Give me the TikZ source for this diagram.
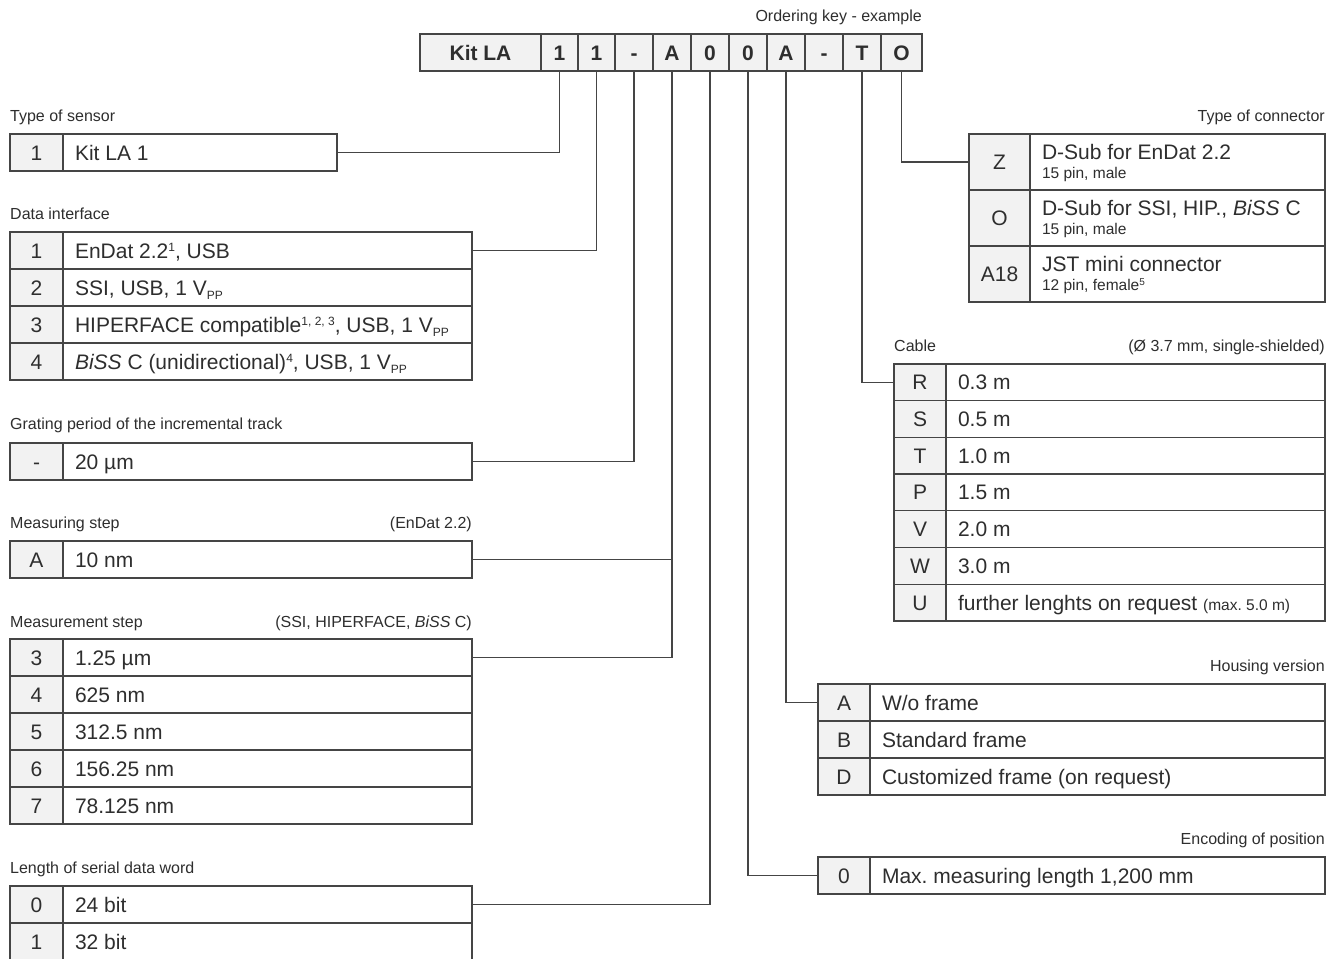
\documentclass[tikz,border=0pt]{standalone}
\usepackage{fontspec}
\setmainfont{Liberation Sans}
\usetikzlibrary{calc}
\definecolor{linec}{HTML}{454545}
\definecolor{keyfill}{HTML}{F2F2F2}
\definecolor{txtc}{HTML}{2E2E2E}
\newcommand\resetsp{\spaceskip=0pt\xspaceskip=0pt\frenchspacing}
\newcommand\mainsz{\fontsize{21}{24}\selectfont\resetsp}
\newcommand\labsz{\fontsize{16}{19}\selectfont\resetsp}
\newcommand\subsz{\fontsize{15.5}{17}\selectfont\resetsp}
\newcommand\mysup[1]{\raisebox{7pt}{\fontsize{12}{12}\selectfont\resetsp #1}}
\newcommand\mysupsm[1]{\raisebox{5pt}{\fontsize{10}{10}\selectfont\resetsp #1}}
\newcommand\mysub[1]{\raisebox{-4pt}{\fontsize{12}{12}\selectfont #1}}
\tikzset{
  cellbase/.style={draw=linec, line width=1.3pt, inner sep=0pt, outer sep=0pt, text=txtc},
  capfix/.style={text height=15pt, text depth=0pt},
  keycell/.style={cellbase, capfix, fill=keyfill, font=\mainsz},
  txtcell/.style={cellbase, fill=white, font=\mainsz, align=left, inner xsep=12pt},
  hdrcell/.style={cellbase, capfix, fill=keyfill, font=\mainsz\bfseries, minimum height=37pt},
  lab/.style={font=\labsz, text=txtc, inner sep=0pt},
  conn/.style={draw=linec, line width=1.3pt},
}
% #1 name, #2 x, #3 y, #4 key width, #5 text cell width, #6 height, #7 key, #8 text, #9 extra style
\newcommand\kvrowgen[9]{%
  \pgfmathsetmacro\myxt{#2+#4}%
  \pgfmathsetmacro\mytw{#5-24}%
  \node[keycell, minimum width=#4pt, minimum height=#6pt, anchor=north west] (#1-k) at (#2,#3) {#7};
  \node[txtcell, #9, text width=\mytw pt, minimum height=#6pt, anchor=north west] (#1-t) at (\myxt,#3) {\resetsp #8};
}
\newcommand\kvrow[8]{\kvrowgen{#1}{#2}{#3}{#4}{#5}{#6}{#7}{#8}{capfix}}
\newcommand\kvrowtwo[8]{\kvrowgen{#1}{#2}{#3}{#4}{#5}{#6}{#7}{#8}{}}
% #1 name, #2 x0, #3 x1, #4 text
\newcommand\hdr[4]{%
  \pgfmathsetmacro\myw{#3-#2}%
  \node[hdrcell, minimum width=\myw pt, anchor=north west] (#1) at (#2,34) {#4};
}
\begin{document}
\begin{tikzpicture}[x=1pt,y=-1pt]
\useasboundingbox (0,0) rectangle (1340,958);
\clip (0,0) rectangle (1340,958);
\fill[white] (0,0) rectangle (1340,958);

% ordering key
\node[lab, anchor=base east] (lok) at (922,22) {Ordering key - example};
\hdr{k0}{420}{541}{Kit LA}
\hdr{k1}{541}{578}{1}
\hdr{k2}{578}{615}{1}
\hdr{k3}{615}{653}{-}
\hdr{k4}{653}{691}{A}
\hdr{k5}{691}{729}{0}
\hdr{k6}{729}{767}{0}
\hdr{k7}{767}{805}{A}
\hdr{k8}{805}{843}{-}
\hdr{k9}{843}{881}{T}
\hdr{k10}{881}{922}{O}

% left side tables
\node[lab, anchor=base west] (lsen) at (10,121) {Type of sensor};
\kvrow{sen}{10}{134}{53}{274}{37}{1}{Kit LA 1}

\node[lab, anchor=base west] (ldi) at (10,219) {Data interface};
\kvrow{di1}{10}{232}{53}{409}{37}{1}{EnDat 2.2\mysup{1}, USB}
\kvrow{di2}{10}{269}{53}{409}{37}{2}{SSI, USB, 1 V\mysub{PP}}
\kvrow{di3}{10}{306}{53}{409}{37}{3}{HIPERFACE compatible\mysup{1, 2, 3}, USB, 1 V\mysub{PP}}
\kvrow{di4}{10}{343}{53}{409}{37}{4}{\textit{BiSS} C (unidirectional)\mysup{4}, USB, 1 V\mysub{PP}}

\node[lab, anchor=base west] (lgp) at (10,429) {Grating period of the incremental track};
\kvrow{gp}{10}{443}{53}{409}{37}{-}{20 µm}

\node[lab, anchor=base west] (lms) at (10,528) {Measuring step};
\node[lab, anchor=base east] (lms2) at (472,528) {(EnDat 2.2)};
\kvrow{ms}{10}{541}{53}{409}{37}{A}{10 nm}

\node[lab, anchor=base west] (lmt) at (10,627) {Measurement step};
\node[lab, anchor=base east] (lmt2) at (472,627) {(SSI, HIPERFACE, \textit{BiSS} C)};
\kvrow{mt3}{10}{639}{53}{409}{37}{3}{1.25 µm}
\kvrow{mt4}{10}{676}{53}{409}{37}{4}{625 nm}
\kvrow{mt5}{10}{713}{53}{409}{37}{5}{312.5 nm}
\kvrow{mt6}{10}{750}{53}{409}{37}{6}{156.25 nm}
\kvrow{mt7}{10}{787}{53}{409}{37}{7}{78.125 nm}

\node[lab, anchor=base west] (lsw) at (10,873) {Length of serial data word};
\kvrow{sw0}{10}{886}{53}{409}{37}{0}{24 bit}
\kvrow{sw1}{10}{923}{53}{409}{37}{1}{32 bit}

% right side tables
\node[lab, anchor=base east] (lct) at (1325,121) {Type of connector};
\kvrowtwo{ctZ}{969}{134}{61}{295}{56}{Z}{\rule{0pt}{17pt}D-Sub for EnDat 2.2\\[-5pt]{\subsz 15 pin, male}}
\kvrowtwo{ctO}{969}{190}{61}{295}{56}{O}{\rule{0pt}{17pt}D-Sub for SSI, HIP., \textit{BiSS} C\\[-5pt]{\subsz 15 pin, male}}
\kvrowtwo{ctA}{969}{246}{61}{295}{56}{A18}{\rule{0pt}{17pt}JST mini connector\\[-5pt]{\subsz 12 pin, female\mysupsm{5}}}

\node[lab, anchor=base west] (lcb) at (894,351) {Cable};
\node[lab, anchor=base east] (lcb2) at (1325,351) {(Ø 3.7 mm, single-shielded)};
\kvrow{cbR}{894}{364}{52}{379}{36.7}{R}{0.3 m}
\kvrow{cbS}{894}{400.7}{52}{379}{36.7}{S}{0.5 m}
\kvrow{cbT}{894}{437.4}{52}{379}{36.7}{T}{1.0 m}
\kvrow{cbP}{894}{474.1}{52}{379}{36.7}{P}{1.5 m}
\kvrow{cbV}{894}{510.8}{52}{379}{36.7}{V}{2.0 m}
\kvrow{cbW}{894}{547.5}{52}{379}{36.7}{W}{3.0 m}
\kvrow{cbU}{894}{584.2}{52}{379}{36.7}{U}{further lenghts on request {\subsz (max. 5.0 m)}}

\node[lab, anchor=base east] (lhv) at (1325,671) {Housing version};
\kvrow{hvA}{818}{684}{52}{455}{37}{A}{W/o frame}
\kvrow{hvB}{818}{721}{52}{455}{37}{B}{Standard frame}
\kvrow{hvD}{818}{758}{52}{455}{37}{D}{Customized frame (on request)}

\node[lab, anchor=base east] (lep) at (1325,844) {Encoding of position};
\kvrow{ep0}{818}{857}{52}{455}{37}{0}{Max. measuring length 1,200 mm}

% connectors
\draw[conn] (k1.south) |- (sen-t.east);
\draw[conn] (k2.south) |- (di1-t.east);
\draw[conn] (k3.south) |- (gp-t.east);
\draw[conn] (k4.south) |- (ms-t.east);
\draw[conn] (k4.south) |- (mt3-t.east);
\draw[conn] (k5.south) |- (sw0-t.east);
\draw[conn] (k6.south) |- (ep0-k.west);
\draw[conn] (k7.south) |- (hvA-k.west);
\draw[conn] (k9.south) |- (cbR-k.west);
\draw[conn] (k10.south) |- (ctZ-k.west);
\end{tikzpicture}
\end{document}
